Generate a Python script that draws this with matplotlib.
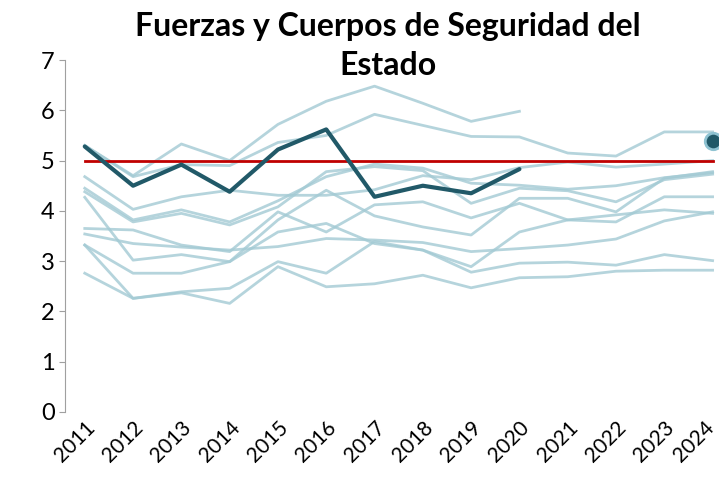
import numpy as np
import matplotlib.pyplot as plt
import matplotlib.transforms as mtransforms

plt.rcParams['font.family'] = ['Lato', 'DejaVu Sans']

years = list(range(2011, 2025))
nan = np.nan

# lineas de referencia (otras comunidades / ambitos)
otros = [
    [5.30, 4.70, 5.33, 5.00, 5.72, 6.18, 6.48, 6.14, 5.78, 5.98, nan, nan, nan, nan],
    [5.30, 4.68, 4.92, 4.90, 5.36, 5.50, 5.92, 5.70, 5.48, 5.47, 5.15, 5.09, 5.57, 5.57],
    [4.68, 4.03, 4.28, 4.41, 4.31, 4.31, 4.42, 4.70, 4.62, 4.86, 4.97, 4.87, 4.93, 5.00],
    [4.45, 3.82, 4.02, 3.78, 4.20, 4.68, 4.93, 4.85, 4.55, 4.51, 4.43, 4.50, 4.66, 4.76],
    [4.38, 3.78, 3.95, 3.72, 4.08, 4.78, 4.88, 4.80, 4.15, 4.45, 4.40, 4.18, 4.62, 4.73],
    [4.27, 3.02, 3.13, 2.99, 3.82, 4.41, 3.90, 3.68, 3.52, 4.25, 4.25, 3.98, 4.65, 4.78],
    [3.65, 3.62, 3.32, 3.19, 3.98, 3.58, 4.12, 4.18, 3.86, 4.15, 3.82, 3.78, 4.28, 4.28],
    [3.54, 3.35, 3.28, 3.22, 3.29, 3.45, 3.42, 3.37, 3.19, 3.25, 3.32, 3.44, 3.80, 3.98],
    [3.32, 2.76, 2.76, 2.99, 3.58, 3.75, 3.35, 3.22, 2.89, 3.58, 3.82, 3.92, 4.02, 3.95],
    [3.32, 2.26, 2.39, 2.46, 2.99, 2.76, 3.39, 3.22, 2.78, 2.96, 2.98, 2.92, 3.13, 3.01],
    [2.76, 2.26, 2.37, 2.16, 2.89, 2.49, 2.55, 2.72, 2.47, 2.67, 2.69, 2.80, 2.82, 2.82],
]

fcse = [5.28, 4.50, 4.92, 4.38, 5.22, 5.62, 4.28, 4.50, 4.35, 4.83, nan, nan, nan, nan]
punto_2024 = 5.38
referencia = 5.0

fig = plt.figure(figsize=(7.22, 4.94), dpi=100)
ax = fig.add_axes([0.09, 0.166, 0.905, 0.7125])

for serie in otros:
    ax.plot(years, serie, color='#a3cad4', lw=2, alpha=0.8, zorder=2)

ax.plot([years[0], years[-1]], [referencia, referencia], color='#c00000', lw=2, zorder=3)
ax.plot(years, fcse, color='#215968', lw=3, zorder=4, solid_capstyle='round')
ax.scatter([years[-1]], [punto_2024], s=140, color='#215968',
           edgecolors='#8fc3d2', linewidths=2, zorder=5)

ax.set_xlim(2010.59, 2024.12)
ax.set_ylim(0, 7)
ax.set_yticks(range(0, 8))
ax.set_xticks(years)
ax.set_xticklabels([str(y) for y in years], rotation=45, ha='right',
                   rotation_mode='anchor', fontsize=15)
desplaza = mtransforms.ScaledTranslation(3 / 72, 0, fig.dpi_scale_trans)
for lab in ax.get_xticklabels():
    lab.set_transform(lab.get_transform() + desplaza)
ax.tick_params(axis='y', labelsize=17, length=4, color='#a0a0a0')
ax.tick_params(axis='x', length=0, pad=4)
for s in ['top', 'right', 'bottom']:
    ax.spines[s].set_visible(False)
ax.spines['left'].set_color('#a0a0a0')
# el ultimo rotulo queda dentro de la figura
ax.get_xticklabels()[-1].set_transform(ax.get_xticklabels()[-1].get_transform()
                                       + mtransforms.ScaledTranslation(-6 / 72, 0, fig.dpi_scale_trans))

fig.text(0.537, 0.975, 'Fuerzas y Cuerpos de Seguridad del\nEstado', ha='center',
         va='top', fontsize=23, fontweight='bold', linespacing=1.4)

fig.savefig('out.png', dpi=100)
